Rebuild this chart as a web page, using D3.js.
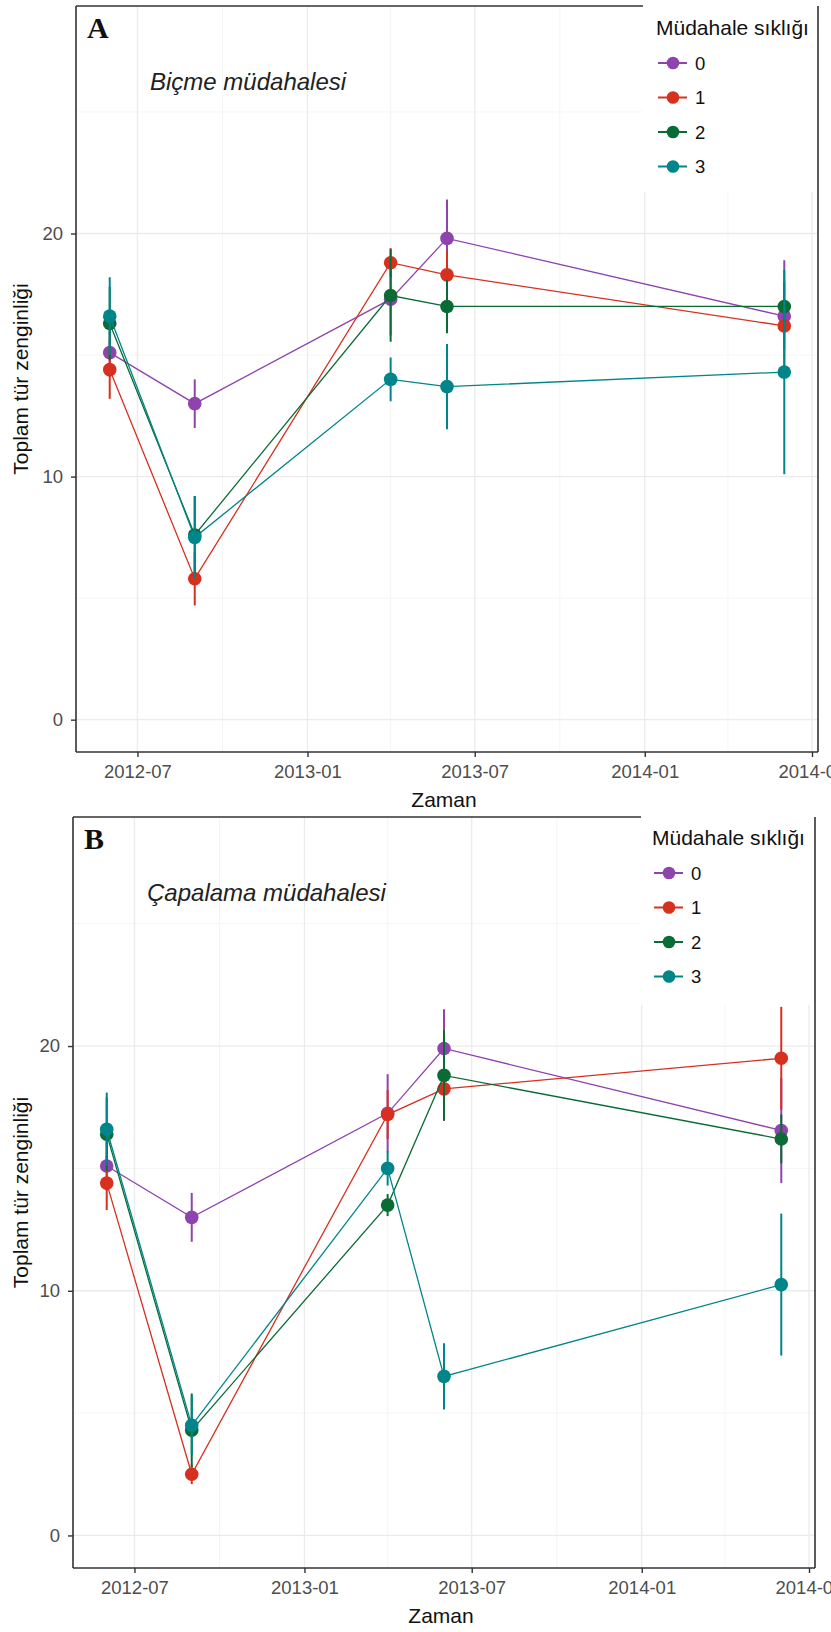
<!DOCTYPE html>
<html>

<head>
  <meta charset="utf-8">
  <script src="https://cdnjs.cloudflare.com/ajax/libs/d3/7.8.5/d3.min.js"></script>
</head>
<style>
  body {
    margin: 0;
    background: #fff;
  }

  svg {
    display: block;
    font-family: "Liberation Sans", Arial, sans-serif;
  }

  .grid-major {
    stroke: #ebebeb;
    stroke-width: 1.3px;
  }

  .grid-minor {
    stroke: #f2f2f2;
    stroke-width: 0.8px;
  }

  .frame {
    stroke: #333;
    stroke-width: 1.6px;
  }

  .tick text {
    font-size: 18.5px;
    fill: #4d4d4d;
  }

  .tick line {
    stroke: #333;
    stroke-width: 1.4px;
  }

  .axis-title {
    font-size: 21px;
    fill: #111;
  }

  .panel-tag {
    font-family: "Liberation Serif", "Times New Roman", serif;
    font-weight: bold;
    font-size: 30px;
    fill: #111;
  }

  .treatment {
    font-style: italic;
    font-size: 24px;
    fill: #222;
  }

  .legend-title {
    font-size: 21px;
    fill: #111;
  }

  .legend-label {
    font-size: 18.5px;
    fill: #111;
  }
</style>

<body>
  <svg id="chart" width="831" height="1632"></svg>
  <script>
    // sampling dates and groups (intervention frequency)
    const sampleDates = ["2012-06-01", "2012-09-01", "2013-04-01", "2013-06-01", "2014-06-01"];
    const groups = ["0", "1", "2", "3"];
    const groupColors = ["#8e44ad", "#d7301f", "#0b6b35", "#00858a"];
    const xTickDates = ["2012-07-01", "2013-01-01", "2013-07-01", "2014-01-01", "2014-07-01"];
    const xMinorDates = ["2012-10-01", "2013-04-01", "2013-10-01", "2014-04-01"];
    const yTicks = [0, 10, 20];
    const yMinor = [5, 15, 25];

    // A: mowing (Biçme)
    const mowMean = [
      [15.1, 13.0, 17.3, 19.8, 16.6],
      [14.4, 5.8, 18.8, 18.3, 16.2],
      [16.3, 7.6, 17.45, 17.0, 17.0],
      [16.6, 7.5, 14.0, 13.7, 14.3]
    ];
    const mowErr = [
      [1.0, 1.0, 1.5, 1.6, 2.3],
      [1.2, 1.1, 0.6, 1.0, 1.0],
      [1.5, 1.6, 1.9, 1.1, 1.0],
      [1.6, 1.7, 0.9, 1.75, 4.2]
    ];

    // B: hoeing (Çapalama)
    const hoeMean = [
      [15.1, 13.0, 17.25, 19.9, 16.55],
      [14.4, 2.5, 17.2, 18.25, 19.5],
      [16.4, 4.3, 13.5, 18.8, 16.2],
      [16.6, 4.5, 15.0, 6.5, 10.25]
    ];
    const hoeErr = [
      [1.0, 1.0, 1.6, 1.6, 2.15],
      [1.1, 0.4, 1.0, 1.3, 2.1],
      [1.5, 1.5, 0.45, 1.85, 1.0],
      [1.5, 1.2, 0.7, 1.35, 2.9]
    ];

    const parse = d3.utcParse("%Y-%m-%d");
    const svg = d3.select("#chart");

    const panels = [
      {
        tag: "A", treatment: "Biçme müdahalesi", mean: mowMean, err: mowErr,
        left: 76, right: 818, top: 6, bottom: 752, legendBox: [643, 0, 174, 192], legendX: 656, legendY: 35
      },
      {
        tag: "B", treatment: "Çapalama müdahalesi", mean: hoeMean, err: hoeErr,
        left: 73, right: 815, top: 817, bottom: 1568, legendBox: [641, 800, 174, 205], legendX: 652, legendY: 845
      }
    ];

    const dates = sampleDates.map(parse);
    // ggplot style 5% expansion on the date range
    const span = dates[dates.length - 1] - dates[0];
    const xDomain = [new Date(+dates[0] - span * 0.05), new Date(+dates[dates.length - 1] + span * 0.05)];

    panels.forEach(function (p) {
      const g = svg.append("g");
      const x = d3.scaleUtc().domain(xDomain).range([p.left, p.right]);
      const y = d3.scaleLinear().domain([-1.33, 29.36]).range([p.bottom, p.top]);

      // grid
      g.selectAll(".gx-minor").data(xMinorDates.map(parse)).join("line")
        .attr("class", "grid-minor")
        .attr("x1", d => x(d)).attr("x2", d => x(d))
        .attr("y1", p.top).attr("y2", p.bottom);
      g.selectAll(".gy-minor").data(yMinor).join("line")
        .attr("class", "grid-minor")
        .attr("x1", p.left).attr("x2", p.right)
        .attr("y1", d => y(d)).attr("y2", d => y(d));
      g.selectAll(".gx-major").data(xTickDates.map(parse)).join("line")
        .attr("class", "grid-major")
        .attr("x1", d => x(d)).attr("x2", d => x(d))
        .attr("y1", p.top).attr("y2", p.bottom);
      g.selectAll(".gy-major").data(yTicks).join("line")
        .attr("class", "grid-major")
        .attr("x1", p.left).attr("x2", p.right)
        .attr("y1", d => y(d)).attr("y2", d => y(d));

      const series = groups.map((k, i) => ({
        key: k, color: groupColors[i],
        values: dates.map((d, j) => ({ date: d, mean: p.mean[i][j], err: p.err[i][j] }))
      }));

      const line = d3.line().x(d => x(d.date)).y(d => y(d.mean));

      series.forEach(function (s) {
        const sg = g.append("g");
        sg.append("path")
          .attr("d", line(s.values))
          .attr("fill", "none")
          .attr("stroke", s.color)
          .attr("stroke-width", 1.3);
        sg.selectAll("line").data(s.values).join("line")
          .attr("x1", d => x(d.date)).attr("x2", d => x(d.date))
          .attr("y1", d => y(d.mean - d.err)).attr("y2", d => y(d.mean + d.err))
          .attr("stroke", s.color)
          .attr("stroke-width", 2);
        sg.selectAll("circle").data(s.values).join("circle")
          .attr("cx", d => x(d.date)).attr("cy", d => y(d.mean))
          .attr("r", 6.8)
          .attr("fill", s.color);
      });

      // axes
      g.append("g")
        .attr("transform", `translate(0,${p.bottom})`)
        .call(d3.axisBottom(x).tickValues(xTickDates.map(parse))
          .tickFormat(d3.utcFormat("%Y-%m")).tickSize(5).tickPadding(8).tickSizeOuter(0))
        .call(a => a.select(".domain").remove());
      g.append("g")
        .attr("transform", `translate(${p.left},0)`)
        .call(d3.axisLeft(y).tickValues(yTicks).tickSize(5).tickPadding(8).tickSizeOuter(0))
        .call(a => a.select(".domain").remove());

      // legend box sits on top of the panel (covers grid + top border)
      const lb = p.legendBox;
      g.append("rect")
        .attr("x", lb[0]).attr("y", lb[1]).attr("width", lb[2]).attr("height", lb[3])
        .attr("fill", "#fff");

      // frame
      g.append("line").attr("class", "frame")
        .attr("x1", p.left).attr("x2", p.left).attr("y1", p.top).attr("y2", p.bottom);
      g.append("line").attr("class", "frame")
        .attr("x1", p.left).attr("x2", p.right).attr("y1", p.bottom).attr("y2", p.bottom);
      g.append("line").attr("class", "frame")
        .attr("x1", p.left).attr("x2", lb[0]).attr("y1", p.top).attr("y2", p.top);
      g.append("line").attr("class", "frame")
        .attr("x1", p.right).attr("x2", p.right).attr("y1", p.top).attr("y2", p.bottom);

      // legend
      g.append("text").attr("class", "legend-title")
        .attr("x", p.legendX).attr("y", p.legendY)
        .text("Müdahale sıklığı");
      const items = g.selectAll(".legend-item").data(series).join("g")
        .attr("transform", (d, i) => `translate(${p.legendX + 17},${p.legendY + 28 + i * 34.5})`);
      items.append("line")
        .attr("x1", -15).attr("x2", 14)
        .attr("stroke", d => d.color).attr("stroke-width", 2);
      items.append("circle").attr("r", 6.3).attr("fill", d => d.color);
      items.append("text").attr("class", "legend-label")
        .attr("x", 22).attr("dy", "0.36em")
        .text(d => d.key);

      // labels
      g.append("text").attr("class", "panel-tag")
        .attr("x", p.left + 11).attr("y", p.top + 32)
        .text(p.tag);
      g.append("text").attr("class", "treatment")
        .attr("x", p.left + 74).attr("y", p.top + 84)
        .text(p.treatment);
      g.append("text").attr("class", "axis-title")
        .attr("text-anchor", "middle")
        .attr("x", (p.left + p.right) / 2 - 3).attr("y", p.bottom + 55)
        .text("Zaman");
      g.append("text").attr("class", "axis-title")
        .attr("text-anchor", "middle")
        .attr("transform", `translate(28,${(p.top + p.bottom) / 2}) rotate(-90)`)
        .text("Toplam tür zenginliği");
    });
  </script>
</body>

</html>
